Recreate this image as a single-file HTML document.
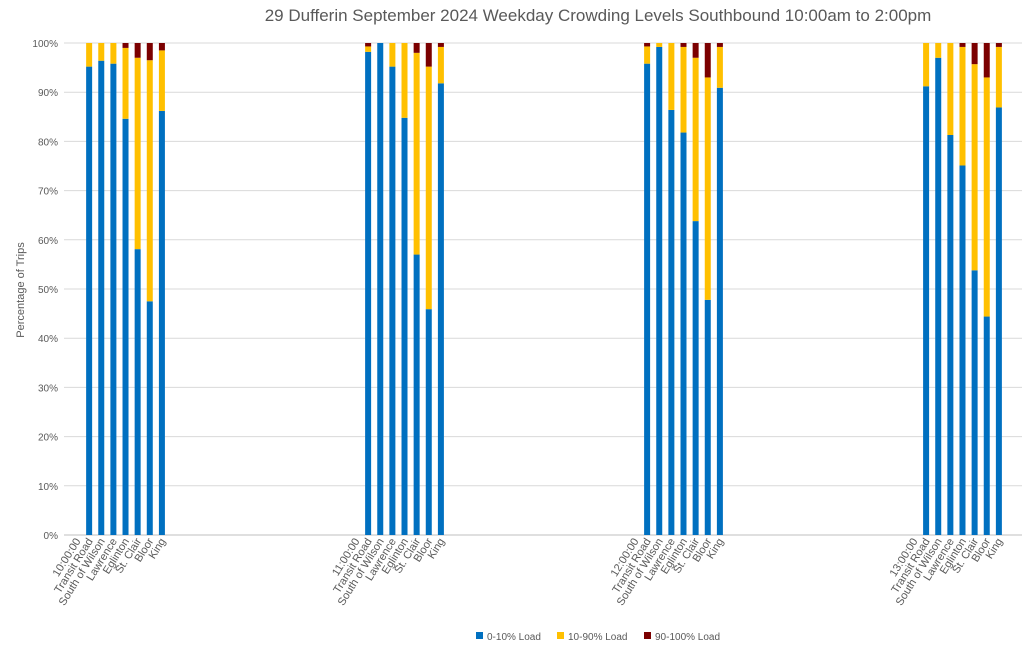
<!DOCTYPE html>
<html><head><meta charset="utf-8"><style>
body{margin:0;background:#fff;font-family:"Liberation Sans",sans-serif}
svg text{font-family:"Liberation Sans",sans-serif;fill:#595959}
</style></head><body>
<svg id="c" width="1024" height="652">
<text x="598" y="21" font-size="17" text-anchor="middle">29 Dufferin September 2024  Weekday Crowding Levels Southbound 10:00am to 2:00pm</text>
<text transform="translate(24,290) rotate(-90)" font-size="11" text-anchor="middle">Percentage of Trips</text>
<g id="grid"></g><g id="bars"></g><g id="xl"></g>
<g>
<rect x="476" y="632" width="7" height="7" fill="#0070c0"/><text x="487" y="640" font-size="10">0-10% Load</text>
<rect x="557" y="632" width="7" height="7" fill="#ffc000"/><text x="568" y="640" font-size="10">10-90% Load</text>
<rect x="644" y="632" width="7" height="7" fill="#7b0000"/><text x="655" y="640" font-size="10">90-100% Load</text>
</g>
</svg>
<script>
const times=["10:00:00","11:00:00","12:00:00","13:00:00"];
const stops=["Transit Road","South of Wilson","Lawrence","Eglinton","St. Clair","Bloor","King"];
const low=[[95.2,96.4,95.8,84.6,58.1,47.5,86.2],[98.2,100,95.2,84.8,57,45.9,91.8],[95.8,99.2,86.4,81.8,63.8,47.8,90.9],[91.2,97,81.3,75.1,53.8,44.4,86.9]];
const high=[[0,0,0,1,3,3.5,1.5],[0.7,0,0,0,2,4.8,0.8],[0.7,0,0,0.8,3,7,0.8],[0,0,0,0.8,4.3,7,0.8]];
const yTicks=[0,10,20,30,40,50,60,70,80,90,100];
const NS="http://www.w3.org/2000/svg";
const y=v=>535-v*4.92;
const x=(g,j)=>77+(g*23+j)*12.13;
function mk(t,a,p){const e=document.createElementNS(NS,t);for(const k in a)e.setAttribute(k,a[k]);p.appendChild(e);return e;}
const grid=document.getElementById('grid'),bars=document.getElementById('bars'),xl=document.getElementById('xl');
yTicks.forEach(v=>{
 const l=mk('line',{x1:64,x2:1022,y1:y(v),y2:y(v),stroke:v?'#d9d9d9':'#bfbfbf','stroke-width':1},grid);
 
 
 const t=mk('text',{x:58,y:y(v)+4,'font-size':10,'text-anchor':'end'},grid);t.textContent=v+'%';
 
 
});
function lbl(cx,s,name){const t=mk('text',{transform:`translate(${cx+4},541) rotate(-58)`,'font-size':11,'text-anchor':'end'},xl);t.textContent=s;
 
 }
times.forEach((tm,g)=>{
 lbl(x(g,0),tm,'x-time-label-'+g);
 stops.forEach((s,i)=>{
  const cx=x(g,i+1),lo=low[g][i],hi=high[g][i],mid=100-lo-hi;
  const segs=[[0,lo,'#0070c0','low'],[lo,lo+mid,'#ffc000','mid'],[lo+mid,100,'#7b0000','high']];
  segs.forEach(([a,b,c,n])=>{if(b-a<=0)return;
   const r=mk('rect',{x:cx-3,width:6,y:y(b),height:y(a)-y(b),fill:c},bars);
   
   });
  lbl(cx,s,'x-stop-label-'+g+'-'+i);
 });
});
</script>
</body></html>
